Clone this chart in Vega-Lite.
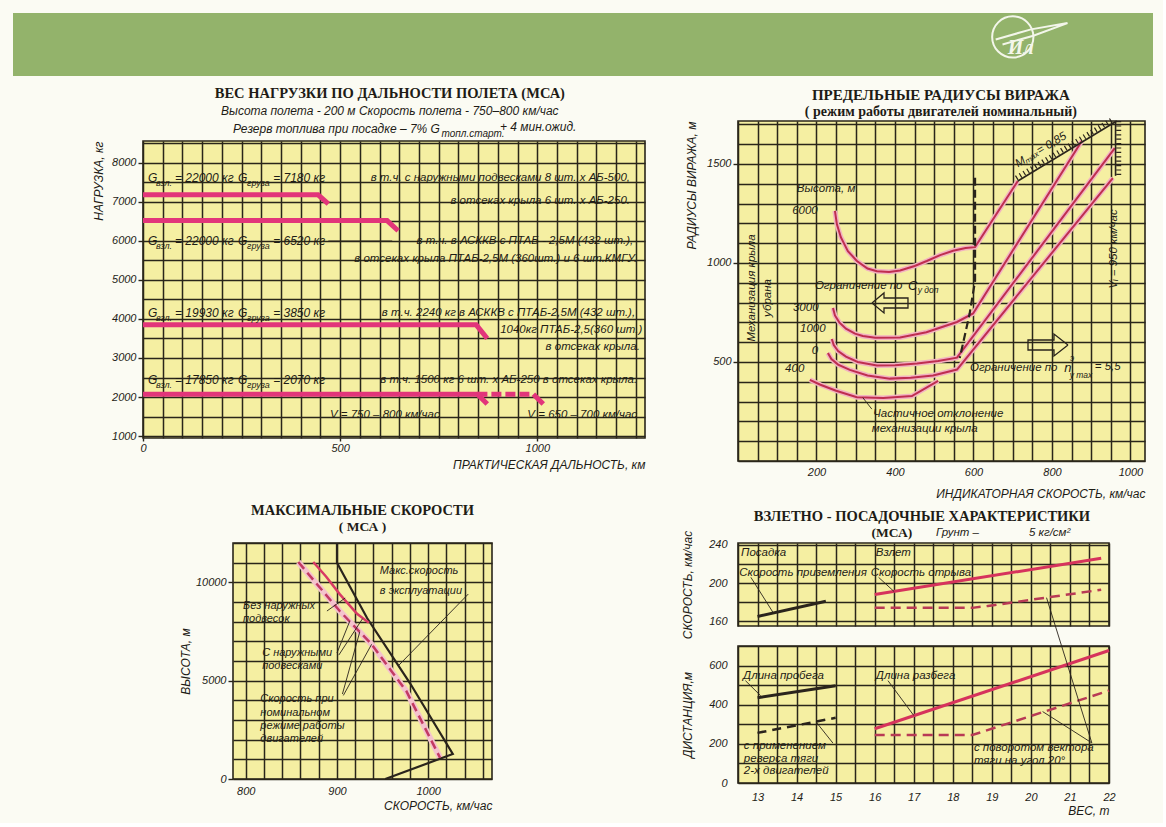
{
"$schema":"https://vega.github.io/schema/vega-lite/v6.json",
"background":"#fbfbf3",
"padding":{"left":13,"top":12,"right":10,"bottom":6},
"config":{
 "view":{"stroke":null},
 "concat":{"spacing":0},
 "axis":{"labelFont":"Liberation Sans","labelFontStyle":"italic","labelFontSize":11,"labelColor":"#1e1c16","titleFont":"Liberation Sans","titleFontStyle":"italic","titleFontWeight":"normal","titleFontSize":12,"titleColor":"#1e1c16","domain":false,"grid":true,"gridColor":"#2a261a","gridWidth":1.5,"gridOpacity":1,"tickColor":"#2a261a","tickWidth":1.4,"tickSize":5,"labelPadding":2,"labelOverlap":false,"labelFlush":false,"labelBound":false},
 "text":{"font":"Liberation Sans","fontStyle":"italic","fontSize":11.5,"color":"#1e1c16","baseline":"middle"},
 "title":{"font":"Liberation Serif","fontWeight":"bold","fontSize":14.5,"color":"#1e1c16","subtitleFont":"Liberation Serif","subtitleFontWeight":"bold","subtitleFontSize":13.5,"subtitleColor":"#1e1c16","anchor":"middle"}
},
"datasets":{
 "p2curves":[
  {"s":"c6000","i":0,"x":247,"y":1263},{"s":"c6000","i":1,"x":252,"y":1195},{"s":"c6000","i":2,"x":262,"y":1130},{"s":"c6000","i":3,"x":280,"y":1060},{"s":"c6000","i":4,"x":303,"y":1010},{"s":"c6000","i":5,"x":330,"y":972},{"s":"c6000","i":6,"x":354,"y":958},{"s":"c6000","i":7,"x":385,"y":955},{"s":"c6000","i":8,"x":413,"y":962},{"s":"c6000","i":9,"x":450,"y":985},{"s":"c6000","i":10,"x":481,"y":1010},{"s":"c6000","i":11,"x":515,"y":1040},{"s":"c6000","i":12,"x":548,"y":1062},{"s":"c6000","i":13,"x":580,"y":1076},{"s":"c6000","i":14,"x":604,"y":1080},{"s":"c6000","i":15,"x":713,"y":1414},
  {"s":"c3000","i":16,"x":242,"y":773},{"s":"c3000","i":17,"x":247,"y":735},{"s":"c3000","i":18,"x":258,"y":700},{"s":"c3000","i":19,"x":275,"y":668},{"s":"c3000","i":20,"x":298,"y":643},{"s":"c3000","i":21,"x":318,"y":631},{"s":"c3000","i":22,"x":350,"y":622},{"s":"c3000","i":23,"x":413,"y":624},{"s":"c3000","i":24,"x":480,"y":650},{"s":"c3000","i":25,"x":558,"y":702},{"s":"c3000","i":26,"x":599,"y":745},{"s":"c3000","i":27,"x":876,"y":1616},
  {"s":"c1000","i":28,"x":239,"y":616},{"s":"c1000","i":29,"x":244,"y":585},{"s":"c1000","i":30,"x":255,"y":555},{"s":"c1000","i":31,"x":275,"y":527},{"s":"c1000","i":32,"x":305,"y":500},{"s":"c1000","i":33,"x":354,"y":482},{"s":"c1000","i":34,"x":400,"y":483},{"s":"c1000","i":35,"x":456,"y":492},{"s":"c1000","i":36,"x":510,"y":505},{"s":"c1000","i":37,"x":558,"y":522},{"s":"c1000","i":38,"x":960,"y":1580},
  {"s":"c0","i":39,"x":229,"y":545},{"s":"c0","i":40,"x":238,"y":515},{"s":"c0","i":41,"x":255,"y":487},{"s":"c0","i":42,"x":285,"y":460},{"s":"c0","i":43,"x":330,"y":432},{"s":"c0","i":44,"x":387,"y":416},{"s":"c0","i":45,"x":440,"y":420},{"s":"c0","i":46,"x":497,"y":432},{"s":"c0","i":47,"x":558,"y":462},{"s":"c0","i":48,"x":955,"y":1429},
  {"s":"c400","i":49,"x":183,"y":410},{"s":"c400","i":50,"x":210,"y":385},{"s":"c400","i":51,"x":250,"y":355},{"s":"c400","i":52,"x":303,"y":322},{"s":"c400","i":53,"x":370,"y":318},{"s":"c400","i":54,"x":443,"y":328},{"s":"c400","i":55,"x":510,"y":405}
 ],
 "p3dash":[
  {"i":0,"x":857.6,"y":11032},{"i":1,"x":880,"y":9800},{"i":2,"x":903,"y":8541},{"i":3,"x":938,"y":6848},{"i":4,"x":976,"y":4474},{"i":5,"x":1013,"y":1083}
 ],
 "none":[]
},
"bounds":"full",
"spacing":0,
"vconcat":[
 {
  "width":1140,"height":63,
  "view":{"fill":"#93b36b","stroke":null},
  "encoding":{
   "x":{"field":"x","type":"quantitative","scale":{"domain":[0,1],"nice":false},"axis":null},
   "y":{"field":"y","type":"quantitative","scale":{"domain":[0,1],"nice":false},"axis":null}
  },
  "layer":[
   {"data":{"values":[{"x":0.877,"y":0.62}]},"mark":{"type":"point","shape":"circle","size":1700,"filled":false,"stroke":"#f3f6ea","strokeWidth":2,"opacity":1}},
   {"data":{"values":[{"i":0,"x":0.862,"y":0.58},{"i":1,"x":0.893,"y":0.74},{"i":2,"x":0.925,"y":0.84},{"i":3,"x":0.895,"y":0.64},{"i":4,"x":0.868,"y":0.5}]},"mark":{"type":"line","color":"#f3f6ea","strokeWidth":2},"encoding":{"order":{"field":"i"}}},
   {"data":{"values":[{"x":0.884,"y":0.44,"t":"Ил"}]},"mark":{"type":"text","font":"Liberation Serif","fontStyle":"italic","fontWeight":"bold","fontSize":20,"color":"#f3f6ea","align":"center"},"encoding":{"text":{"field":"t"}}}
  ]
 },
 {
  "bounds":"full","spacing":32,
  "hconcat":[
   {
    "bounds":"full","spacing":0,
    "vconcat":[
     {
      "columns":2,"align":"each","bounds":"flush","spacing":0,
      "concat":[
       {"width":130,"height":65,"mark":"point","data":{"name":"none"},"encoding":{}},
       {"width":1,"height":1,"mark":"point","data":{"name":"none"},"encoding":{}},
       {"width":1,"height":360,"mark":"point","data":{"name":"none"},"encoding":{}},
       {
        "width":502,"height":297,
        "view":{"fill":"#f5efa2","stroke":"#2a261a","strokeWidth":1.6},
        "encoding":{
         "x":{"field":"x","type":"quantitative","scale":{"domain":[0,1273],"nice":false,"zero":false},
          "axis":{"values":[0,50,100,150,200,250,300,350,400,450,500,550,600,650,700,750,800,850,900,950,1000,1050,1100,1150,1200,1250],"format":"d","labelExpr":"datum.value % 500 === 0 ? datum.label : ''","tickOpacity":{"condition":{"test":"datum.value % 500 === 0","value":1},"value":0},"tickSize":3,"labelPadding":1,"title":"ПРАКТИЧЕСКАЯ  ДАЛЬНОСТЬ, км","titleAnchor":"end","titlePadding":6}},
         "y":{"field":"y","type":"quantitative","scale":{"domain":[950,8560],"nice":false,"zero":false},
          "axis":{"values":[1000,1500,2000,2500,3000,3500,4000,4500,5000,5500,6000,6500,7000,7500,8000,8500],"format":"d","labelExpr":"datum.value % 1000 === 0 ? datum.label : ''","tickOpacity":{"condition":{"test":"datum.value % 1000 === 0","value":1},"value":0},"title":"НАГРУЗКА, кг","titleAnchor":"end","titlePadding":6}}
        },
        "layer":[
         {"data":{"values":[
           {"s":"a","i":0,"x":0,"y":7180},{"s":"a","i":1,"x":444,"y":7180},{"s":"a","i":2,"x":470,"y":6950},
           {"s":"b","i":3,"x":0,"y":6520},{"s":"b","i":4,"x":619,"y":6520},{"s":"b","i":5,"x":647,"y":6260},
           {"s":"c","i":6,"x":0,"y":3850},{"s":"c","i":7,"x":845,"y":3850},{"s":"c","i":8,"x":873,"y":3500},
           {"s":"d","i":9,"x":0,"y":2070},{"s":"d","i":10,"x":848,"y":2070},{"s":"d","i":11,"x":873,"y":1820},
           {"s":"f","i":12,"x":990,"y":2070},{"s":"f","i":13,"x":1015,"y":1820}]},
          "mark":{"type":"line","color":"#e2357a","strokeWidth":5},
          "encoding":{"detail":{"field":"s"},"order":{"field":"i"}}},
         {"data":{"values":[{"s":"e","i":0,"x":848,"y":2070},{"s":"e","i":1,"x":990,"y":2070}]},
          "mark":{"type":"line","color":"#e2357a","strokeWidth":5,"strokeDash":[10,4]},
          "encoding":{"detail":{"field":"s"},"order":{"field":"i"}}},
         {"data":{"values":[{"i":0,"x":470,"y":5997},{"i":1,"x":632,"y":5997}]},
          "mark":{"type":"line","color":"#2a241c","strokeWidth":1},"encoding":{"order":{"field":"i"}}},
         {"data":{"values":[{"x":626,"y":9764,"t":"ВЕС НАГРУЗКИ ПО ДАЛЬНОСТИ ПОЛЕТА (МСА)"}]},
          "mark":{"type":"text","font":"Liberation Serif","fontStyle":"normal","fontWeight":"bold","fontSize":14.5,"align":"center"},"encoding":{"text":{"field":"t"}}},
         {"data":{"values":[{"x":626,"y":9330,"t":"Высота полета - 200 м   Скорость полета - 750–800 км/час"}]},
          "mark":{"type":"text","fontSize":12,"align":"center"},"encoding":{"text":{"field":"t"}}},
         {"data":{"values":[{"x":753,"y":8870,"t":"Резерв топлива при посадке – 7% G"}]},
          "mark":{"type":"text","fontSize":12,"align":"right"},"encoding":{"text":{"field":"t"}}},
         {"data":{"values":[{"x":757,"y":8740,"t":"топл.старт."}]},
          "mark":{"type":"text","fontSize":10,"align":"left"},"encoding":{"text":{"field":"t"}}},
         {"data":{"values":[{"x":905,"y":8920,"t":"+ 4 мин.ожид."}]},
          "mark":{"type":"text","fontSize":12,"align":"left"},"encoding":{"text":{"field":"t"}}},
         {"data":{"values":[
           {"x":12.7,"y":7612,"t":"G"},{"x":81,"y":7612,"t":"= 22000 кг"},{"x":241,"y":7612,"t":"G"},{"x":330,"y":7612,"t":"= 7180 кг"},
           {"x":12.7,"y":5997,"t":"G"},{"x":81,"y":5997,"t":"= 22000 кг"},{"x":241,"y":5997,"t":"G"},{"x":330,"y":5997,"t":"= 6520 кг"},
           {"x":12.7,"y":4153,"t":"G"},{"x":81,"y":4153,"t":"= 19930 кг"},{"x":241,"y":4153,"t":"G"},{"x":330,"y":4153,"t":"= 3850 кг"},
           {"x":12.7,"y":2436,"t":"G"},{"x":81,"y":2436,"t":"= 17850 кг"},{"x":241,"y":2436,"t":"G"},{"x":330,"y":2436,"t":"= 2070 кг"}]},
          "mark":{"type":"text","fontSize":12,"align":"left"},"encoding":{"text":{"field":"t"}}},
         {"data":{"values":[
           {"x":33,"y":7483,"t":"взл."},{"x":264,"y":7483,"t":"груза"},
           {"x":33,"y":5869,"t":"взл."},{"x":264,"y":5869,"t":"груза"},
           {"x":33,"y":4025,"t":"взл."},{"x":264,"y":4025,"t":"груза"},
           {"x":33,"y":2308,"t":"взл."},{"x":264,"y":2308,"t":"груза"}]},
          "mark":{"type":"text","fontSize":9,"align":"left"},"encoding":{"text":{"field":"t"}}},
         {"data":{"values":[
           {"x":1235,"y":7612,"t":"в т.ч. с наружными подвесками 8 шт. х АБ-500,"},
           {"x":1235,"y":7022,"t":"в отсеках крыла 6 шт. х АБ-250."},
           {"x":1243,"y":5997,"t":"в т.ч. в АСККВ  с ПТАБ - 2,5М  (432 шт.),"},
           {"x":1253,"y":5536,"t":"в отсеках крыла ПТАБ-2,5М  (360шт.)  и 6 шт.КМГУ."},
           {"x":1248,"y":4153,"t":"в т.ч. 2240 кг   в АСККВ с ПТАБ-2,5М  (432 шт.),"},
           {"x":1266,"y":3717,"t":"1040кг ПТАБ-2,5(360 шт.)"},
           {"x":1260,"y":3282,"t":"в отсеках крыла."},
           {"x":1253,"y":2436,"t":"в т.ч. 1500 кг 6 шт. х АБ-250 в отсеках крыла."},
           {"x":1253,"y":1539,"t":"V = 650 – 700 км/час"}]},
          "mark":{"type":"text","align":"right"},"encoding":{"text":{"field":"t"}}},
         {"data":{"values":[{"x":474,"y":1539,"t":"V = 750 – 800 км/час"}]},
          "mark":{"type":"text","align":"left"},"encoding":{"text":{"field":"t"}}}
        ]
       }
      ]
     },
     {
      "columns":2,"align":"each","bounds":"flush","spacing":0,
      "concat":[
       {"width":220,"height":42,"mark":"point","data":{"name":"none"},"encoding":{}},
       {"width":1,"height":1,"mark":"point","data":{"name":"none"},"encoding":{}},
       {"width":1,"height":1,"mark":"point","data":{"name":"none"},"encoding":{}},
       {
        "width":259,"height":236,
        "title":{"text":"МАКСИМАЛЬНЫЕ  СКОРОСТИ","subtitle":"( МСА )","offset":3,"subtitlePadding":1},
        "view":{"fill":"#f5efa2","stroke":"#2a261a","strokeWidth":1.6},
        "encoding":{
         "x":{"field":"x","type":"quantitative","scale":{"domain":[786,1070],"nice":false,"zero":false},
          "axis":{"values":[800,820,840,860,880,900,920,940,960,980,1000,1020,1040,1060],"format":"d","labelExpr":"datum.value % 100 === 0 ? datum.label : ''","tickOpacity":0,"tickSize":0,"labelPadding":6,"title":"СКОРОСТЬ, км/час","titleAnchor":"end","titlePadding":4}},
         "y":{"field":"y","type":"quantitative","scale":{"domain":[0,12000],"nice":false,"zero":false},
          "axis":{"values":[0,1000,2000,3000,4000,5000,6000,7000,8000,9000,10000,11000,12000],"format":"d","labelExpr":"datum.value % 5000 === 0 ? datum.label : ''","tickOpacity":{"condition":{"test":"datum.value % 5000 === 0","value":1},"value":0},"title":"ВЫСОТА, м","titlePadding":3}}
        },
        "layer":[
         {"data":{"name":"p3dash"},"mark":{"type":"line","color":"#f4c3cd","strokeWidth":6},"encoding":{"order":{"field":"i"}}},
         {"data":{"values":[{"i":0,"x":900,"y":12000},{"i":1,"x":900,"y":11000},{"i":2,"x":933,"y":8185},{"i":3,"x":980,"y":4880},{"i":4,"x":1027,"y":1271},{"i":5,"x":953,"y":0}]},
          "mark":{"type":"line","color":"#2a241c","strokeWidth":2.2},"encoding":{"order":{"field":"i"}}},
         {"data":{"values":[{"i":0,"x":874,"y":11032},{"i":1,"x":888,"y":10300},{"i":2,"x":903,"y":9400},{"i":3,"x":922,"y":8400},{"i":4,"x":935,"y":7950}]},
          "mark":{"type":"line","color":"#d83a64","strokeWidth":2.5},"encoding":{"order":{"field":"i"}}},
         {"data":{"name":"p3dash"},"mark":{"type":"line","color":"#c23a63","strokeWidth":2.5,"strokeDash":[9,5]},"encoding":{"order":{"field":"i"}}},
         {"data":{"values":[
           {"s":"l1","i":0,"x":1044,"y":9405},{"s":"l1","i":1,"x":967,"y":5745},
           {"s":"l2","i":2,"x":889,"y":8541},{"s":"l2","i":3,"x":909,"y":9202},
           {"s":"l3","i":4,"x":900,"y":6406},{"s":"l3","i":5,"x":914,"y":8020},
           {"s":"l4","i":6,"x":902,"y":6300},{"s":"l4","i":7,"x":928,"y":8150},
           {"s":"l5","i":8,"x":906,"y":4321},{"s":"l5","i":9,"x":925,"y":7477},
           {"s":"l6","i":10,"x":907,"y":4250},{"s":"l6","i":11,"x":938,"y":6848}]},
          "mark":{"type":"line","color":"#2a241c","strokeWidth":0.9},"encoding":{"detail":{"field":"s"},"order":{"field":"i"}}},
         {"data":{"values":[
           {"x":947,"y":10575,"t":"Макс.скорость"},{"x":947,"y":9558,"t":"в эксплуатации"},
           {"x":797,"y":8795,"t":"Без наружных"},{"x":797,"y":8134,"t":"подвесок"},
           {"x":818,"y":6406,"t":"С наружными"},{"x":818,"y":5745,"t":"подвесками"},
           {"x":816,"y":4067,"t":"Скорость при"},{"x":816,"y":3355,"t":"номинальном"},{"x":816,"y":2695,"t":"режиме работы"},{"x":816,"y":2034,"t":"двигателей"}]},
          "mark":{"type":"text","align":"left","fontSize":11},"encoding":{"text":{"field":"t"}}}
        ]
       }
      ]
     }
    ]
   },
   {
    "columns":2,"align":"each","bounds":"flush","spacing":0,
    "concat":[
     {"width":60,"height":45,"mark":"point","data":{"name":"none"},"encoding":{}},
     {"width":1,"height":1,"mark":"point","data":{"name":"none"},"encoding":{}},
     {"width":1,"height":1,"mark":"point","data":{"name":"none"},"encoding":{}},
     {
      "width":407,"height":340,
      "view":{"fill":"#f5efa2","stroke":"#2a261a","strokeWidth":1.6},
      "encoding":{
       "x":{"field":"x","type":"quantitative","scale":{"domain":[0,1037],"nice":false,"zero":false},
        "axis":{"values":[0,50,100,150,200,250,300,350,400,450,500,550,600,650,700,750,800,850,900,950,1000],"format":"d","labelExpr":"datum.value % 200 === 0 && datum.value > 0 ? datum.label : ''","tickOpacity":0,"tickSize":0,"labelPadding":5,"title":"ИНДИКАТОРНАЯ  СКОРОСТЬ, км/час","titleAnchor":"end","titlePadding":11}},
       "y":{"field":"y","type":"quantitative","scale":{"domain":[0,1717],"nice":false,"zero":false},
        "axis":{"values":[0,100,200,300,400,500,600,700,800,900,1000,1100,1200,1300,1400,1500,1600,1700],"format":"d","labelExpr":"datum.value % 500 === 0 && datum.value > 0 ? datum.label : ''","tickOpacity":{"condition":{"test":"datum.value % 500 === 0 && datum.value > 0","value":1},"value":0},"title":"РАДИУСЫ  ВИРАЖА, м","titleAnchor":"end","titlePadding":8}}
      },
      "layer":[
       {"data":{"name":"p2curves"},"mark":{"type":"line","color":"#f2b3c1","strokeWidth":5},"encoding":{"detail":{"field":"s"},"order":{"field":"i"}}},
       {"data":{"name":"p2curves"},"mark":{"type":"line","color":"#bf2e50","strokeWidth":2},"encoding":{"detail":{"field":"s"},"order":{"field":"i"}}},
       {"data":{"values":[{"s":"m","i":0,"x":713,"y":1414},{"s":"m","i":1,"x":965,"y":1717},{"s":"v","i":2,"x":962,"y":1717},{"s":"v","i":3,"x":962,"y":1440}]},
        "mark":{"type":"line","color":"#2a241c","strokeWidth":1.6},"encoding":{"detail":{"field":"s"},"order":{"field":"i"}}},
       {"data":{"values":[{"s":"hm","i":0,"x":709,"y":1429},{"s":"hm","i":1,"x":958,"y":1729},{"s":"hv","i":2,"x":970,"y":1717},{"s":"hv","i":3,"x":970,"y":1440}]},
        "mark":{"type":"line","color":"#2a241c","strokeWidth":5,"strokeDash":[1.2,3.2]},"encoding":{"detail":{"field":"s"},"order":{"field":"i"}}},
       {"data":{"values":[{"i":0,"x":604,"y":1430},{"i":1,"x":604,"y":909},{"i":2,"x":590,"y":742},{"i":3,"x":565,"y":520}]},
        "mark":{"type":"line","color":"#2a241c","strokeWidth":2.2,"strokeDash":[8,4]},"encoding":{"order":{"field":"i"}}},
       {"data":{"values":[{"i":0,"x":341,"y":262},{"i":1,"x":318,"y":320}]},
        "mark":{"type":"line","color":"#2a241c","strokeWidth":0.9},"encoding":{"order":{"field":"i"}}},
       {"data":{"values":[
         {"s":"L","i":0,"x":341.4,"y":798},{"s":"L","i":1,"x":372,"y":848.5},{"s":"L","i":2,"x":372,"y":823.2},{"s":"L","i":3,"x":433.1,"y":823.2},{"s":"L","i":4,"x":433.1,"y":772.7},{"s":"L","i":5,"x":372,"y":772.7},{"s":"L","i":6,"x":372,"y":747.5},{"s":"L","i":7,"x":341.4,"y":798},
         {"s":"R","i":8,"x":840.8,"y":585.9},{"s":"R","i":9,"x":805.1,"y":641.4},{"s":"R","i":10,"x":805.1,"y":611.1},{"s":"R","i":11,"x":738.9,"y":611.1},{"s":"R","i":12,"x":738.9,"y":560.6},{"s":"R","i":13,"x":805.1,"y":560.6},{"s":"R","i":14,"x":805.1,"y":530.3},{"s":"R","i":15,"x":840.8,"y":585.9}]},
        "mark":{"type":"line","color":"#2a241c","strokeWidth":1.3,"strokeJoin":"miter"},"encoding":{"detail":{"field":"s"},"order":{"field":"i"}}},
       {"data":{"values":[{"x":517,"y":1848,"t":"ПРЕДЕЛЬНЫЕ  РАДИУСЫ  ВИРАЖА"}]},
        "mark":{"type":"text","align":"center","font":"Liberation Serif","fontStyle":"normal","fontWeight":"bold","fontSize":15},"encoding":{"text":{"field":"t"}}},
       {"data":{"values":[{"x":517,"y":1763,"t":"( режим работы двигателей номинальный)"}]},
        "mark":{"type":"text","align":"center","font":"Liberation Serif","fontStyle":"normal","fontWeight":"bold","fontSize":14},"encoding":{"text":{"field":"t"}}},
       {"data":{"values":[
         {"x":150,"y":1374,"t":"Высота, м"},{"x":138,"y":1263,"t":"6000"},{"x":140,"y":773,"t":"3000"},{"x":158,"y":667,"t":"1000"},{"x":188,"y":556,"t":"0"},{"x":120,"y":465,"t":"400"},
         {"x":344,"y":237,"t":"Частичное отклонение"},{"x":341,"y":162,"t":"механизации  крыла"},
         {"x":196,"y":884,"t":"Ограничение  по"},{"x":591,"y":470,"t":"Ограничение  по"},{"x":909,"y":475,"t":"= 5,5"}]},
        "mark":{"type":"text","align":"left"},"encoding":{"text":{"field":"t"}}},
       {"data":{"values":[{"x":433,"y":884,"t":"C"},{"x":831,"y":470,"t":"n"}]},
        "mark":{"type":"text","align":"left","fontSize":13},"encoding":{"text":{"field":"t"}}},
       {"data":{"values":[{"x":458,"y":862,"t":"у доп"},{"x":845,"y":434,"t":"у max"},{"x":846,"y":520,"t":"э"}]},
        "mark":{"type":"text","align":"left","fontSize":8.5},"encoding":{"text":{"field":"t"}}},
       {"data":{"values":[{"x":36,"y":874,"t":"Механизация крыла"},{"x":76,"y":823,"t":"убрана"},{"x":958,"y":1071,"t":"Vᵢ = 950 км/час"}]},
        "mark":{"type":"text","align":"center","angle":270},"encoding":{"text":{"field":"t"}}},
       {"data":{"values":[{"x":772,"y":1570,"t":"Mₘₐₓ= 0,85"}]},
        "mark":{"type":"text","align":"center","angle":329},"encoding":{"text":{"field":"t"}}}
      ]
     },
     {"width":1,"height":82,"mark":"point","data":{"name":"none"},"encoding":{}},
     {"width":1,"height":1,"mark":"point","data":{"name":"none"},"encoding":{}},
     {"width":1,"height":1,"mark":"point","data":{"name":"none"},"encoding":{}},
     {
      "width":371,"height":83,
      "view":{"fill":"#f5efa2","stroke":"#2a261a","strokeWidth":1.6},
      "encoding":{
       "x":{"field":"x","type":"quantitative","scale":{"domain":[12.5,22],"nice":false,"zero":false},
        "axis":{"values":[12.5,13,13.5,14,14.5,15,15.5,16,16.5,17,17.5,18,18.5,19,19.5,20,20.5,21,21.5,22],"labels":false,"ticks":false,"title":null}},
       "y":{"field":"y","type":"quantitative","scale":{"domain":[155,242],"nice":false,"zero":false},
        "axis":{"values":[160,180,200,220,240],"format":"d","labelExpr":"datum.value % 40 === 0 ? datum.label : ''","tickOpacity":0,"labelPadding":6,"title":"СКОРОСТЬ, км/час","titlePadding":14}}
      },
      "layer":[
       {"data":{"values":[{"i":0,"x":13,"y":165},{"i":1,"x":14.75,"y":181}]},
        "mark":{"type":"line","color":"#2a241c","strokeWidth":3},"encoding":{"order":{"field":"i"}}},
       {"data":{"values":[{"i":0,"x":16,"y":188},{"i":1,"x":21.8,"y":226}]},
        "mark":{"type":"line","color":"#d6335c","strokeWidth":3},"encoding":{"order":{"field":"i"}}},
       {"data":{"values":[{"i":0,"x":16,"y":174},{"i":1,"x":18.5,"y":174},{"i":2,"x":18.9,"y":176},{"i":3,"x":21.8,"y":193}]},
        "mark":{"type":"line","color":"#b83a55","strokeWidth":2.5,"strokeDash":[10,6]},"encoding":{"order":{"field":"i"}}},
       {"data":{"values":[{"s":"a","i":0,"x":12.83,"y":206},{"s":"a","i":1,"x":13.4,"y":169},{"s":"b","i":2,"x":16.1,"y":206},{"s":"b","i":3,"x":16.5,"y":191}]},
        "mark":{"type":"line","color":"#2a241c","strokeWidth":0.9},"encoding":{"detail":{"field":"s"},"order":{"field":"i"}}},
       {"data":{"values":[
         {"x":12.58,"y":231.5,"t":"Посадка"},{"x":16.03,"y":231.5,"t":"Взлет"},
         {"x":12.53,"y":210.6,"t":"Скорость приземления"},{"x":15.9,"y":210.6,"t":"Скорость отрыва"},
         {"x":17.57,"y":252.5,"t":"Грунт –"},{"x":19.95,"y":252.5,"t":"5 кг/см²"}]},
        "mark":{"type":"text","align":"left"},"encoding":{"text":{"field":"t"}}},
       {"data":{"values":[{"x":17.21,"y":269.3,"t":"ВЗЛЕТНО - ПОСАДОЧНЫЕ  ХАРАКТЕРИСТИКИ"}]},
        "mark":{"type":"text","align":"center","font":"Liberation Serif","fontStyle":"normal","fontWeight":"bold","fontSize":14.5},"encoding":{"text":{"field":"t"}}},
       {"data":{"values":[{"x":16.44,"y":252.5,"t":"(МСА)"}]},
        "mark":{"type":"text","align":"center","font":"Liberation Serif","fontStyle":"normal","fontWeight":"bold","fontSize":13.5},"encoding":{"text":{"field":"t"}}}
      ]
     },
     {"width":1,"height":20,"mark":"point","data":{"name":"none"},"encoding":{}},
     {"width":1,"height":1,"mark":"point","data":{"name":"none"},"encoding":{}},
     {"width":1,"height":1,"mark":"point","data":{"name":"none"},"encoding":{}},
     {
      "width":371,"height":137,
      "view":{"fill":"#f5efa2","stroke":"#2a261a","strokeWidth":1.6},
      "encoding":{
       "x":{"field":"x","type":"quantitative","scale":{"domain":[12.5,22],"nice":false,"zero":false},
        "axis":{"values":[12.5,13,13.5,14,14.5,15,15.5,16,16.5,17,17.5,18,18.5,19,19.5,20,20.5,21,21.5,22],"labelExpr":"datum.value % 1 === 0 ? '' + datum.value : ''","labelOpacity":1,"labelColor":"#1e1c16","tickOpacity":0,"tickSize":0,"labelPadding":8,"title":"ВЕС, т","titleAnchor":"end","titlePadding":3}},
       "y":{"field":"y","type":"quantitative","scale":{"domain":[0,700],"nice":false,"zero":false},
        "axis":{"values":[0,100,200,300,400,500,600,700],"format":"d","labelExpr":"datum.value % 200 === 0 ? datum.label : ''","tickOpacity":0,"labelPadding":6,"title":"ДИСТАНЦИЯ,м","titlePadding":14}}
      },
      "layer":[
       {"data":{"values":[{"i":0,"x":13,"y":436},{"i":1,"x":15,"y":497}]},
        "mark":{"type":"line","color":"#2a241c","strokeWidth":3},"encoding":{"order":{"field":"i"}}},
       {"data":{"values":[{"i":0,"x":13,"y":256},{"i":1,"x":15,"y":333}]},
        "mark":{"type":"line","color":"#2a241c","strokeWidth":2.5,"strokeDash":[9,6]},"encoding":{"order":{"field":"i"}}},
       {"data":{"values":[{"i":0,"x":16,"y":277},{"i":1,"x":22,"y":677}]},
        "mark":{"type":"line","color":"#d6335c","strokeWidth":3},"encoding":{"order":{"field":"i"}}},
       {"data":{"values":[{"i":0,"x":16,"y":245},{"i":1,"x":18.5,"y":245},{"i":2,"x":22,"y":472}]},
        "mark":{"type":"line","color":"#b83a55","strokeWidth":2.5,"strokeDash":[10,6]},"encoding":{"order":{"field":"i"}}},
       {"data":{"values":[
         {"s":"a","i":0,"x":12.69,"y":523},{"s":"a","i":1,"x":13.08,"y":446},
         {"s":"b","i":2,"x":16.34,"y":523},{"s":"b","i":3,"x":17.0,"y":345},
         {"s":"c","i":4,"x":14.93,"y":204},{"s":"c","i":5,"x":14.5,"y":312},
         {"s":"d","i":6,"x":21.56,"y":205},{"s":"d","i":7,"x":20.4,"y":947},
         {"s":"e","i":8,"x":21.56,"y":205},{"s":"e","i":9,"x":20.3,"y":365}]},
        "mark":{"type":"line","color":"#2a241c","strokeWidth":0.9},"encoding":{"detail":{"field":"s"},"order":{"field":"i"}}},
       {"data":{"values":[
         {"x":12.63,"y":547,"t":"Длина пробега"},{"x":16.03,"y":547,"t":"Длина разбега"},
         {"x":12.65,"y":189,"t":"с применением"},{"x":12.65,"y":123,"t":"реверса тяги"},{"x":12.65,"y":61,"t":"2-х двигателей"},
         {"x":18.54,"y":179,"t":"с поворотом вектора"},{"x":18.54,"y":112,"t":"тяги на угол 20°"}]},
        "mark":{"type":"text","align":"left"},"encoding":{"text":{"field":"t"}}}
      ]
     }
    ]
   }
  ]
 }
]
}
